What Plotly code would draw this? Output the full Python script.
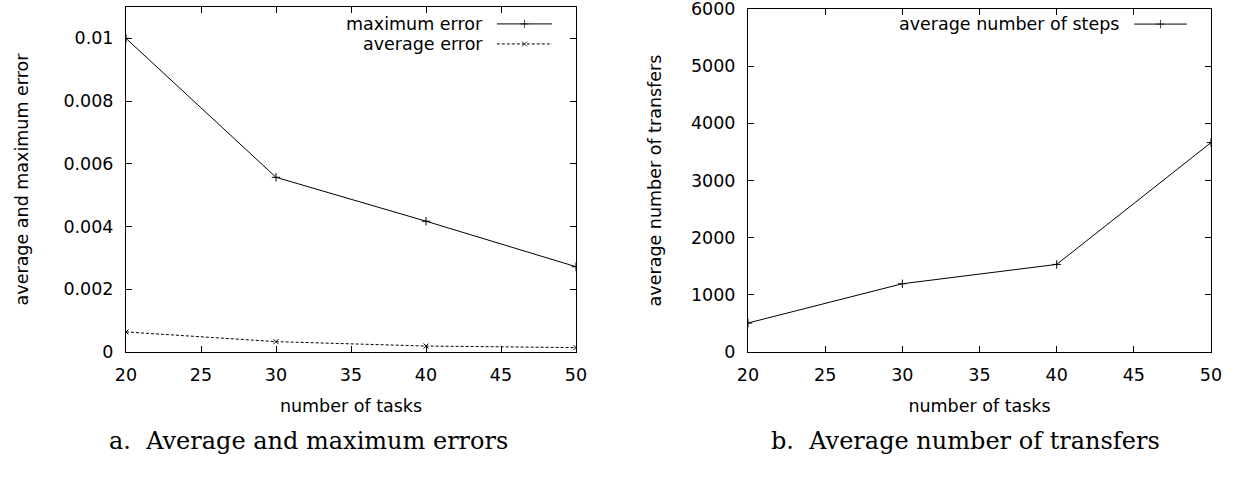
import plotly.graph_objects as go

# ---- data ----
tasks = [20, 30, 40, 50]
max_error = [0.0100, 0.00557, 0.00417, 0.00272]
avg_error = [0.00064, 0.00033, 0.00019, 0.00014]
avg_steps = [507, 1194, 1532, 3663]

x_ticks = [20, 25, 30, 35, 40, 45, 50]
y1_ticks = [0, 0.002, 0.004, 0.006, 0.008, 0.01]
y1_ticklabels = ["0", "0.002", "0.004", "0.006", "0.008", "0.01"]
y2_ticks = [0, 1000, 2000, 3000, 4000, 5000, 6000]

W, H = 1239, 479
FONT = "DejaVu Sans"
FS = 17.5
SERIF = "DejaVu Serif"

# plot-area pixel boxes
L1, R1, T1, B1 = 126, 576, 7, 352
L2, R2, T2, B2 = 748, 1211, 9, 352

fig = go.Figure()

line_black = dict(color="black", width=1)
plus_marker = dict(symbol="cross-thin", size=6, line=dict(color="black", width=1))
x_marker = dict(symbol="x-thin", size=5, line=dict(color="black", width=1))

fig.add_trace(go.Scatter(x=tasks, y=max_error, mode="lines+markers",
                         line=line_black, marker=plus_marker,
                         xaxis="x", yaxis="y", showlegend=False))
fig.add_trace(go.Scatter(x=tasks, y=avg_error, mode="lines+markers",
                         line=dict(color="black", width=1, dash="3px,2px"), marker=x_marker,
                         xaxis="x", yaxis="y", showlegend=False))
fig.add_trace(go.Scatter(x=tasks, y=avg_steps, mode="lines+markers",
                         line=line_black, marker=plus_marker,
                         xaxis="x2", yaxis="y2", showlegend=False))

# ---- legend keys (gnuplot style: text then sample) on overlay axes ----
leg_x = [0, 0.5, 1]
fig.add_trace(go.Scatter(x=leg_x, y=[0.951] * 3, mode="lines+markers", line=line_black,
                         marker=dict(symbol="cross-thin", size=[0, 6, 0], line=dict(color="black", width=1)),
                         xaxis="x3", yaxis="y3", showlegend=False, hoverinfo="skip"))
fig.add_trace(go.Scatter(x=leg_x, y=[0.893] * 3, mode="lines+markers",
                         line=dict(color="black", width=1, dash="3px,2px"),
                         marker=dict(symbol="x-thin", size=[0, 5, 0], line=dict(color="black", width=1)),
                         xaxis="x3", yaxis="y3", showlegend=False, hoverinfo="skip"))
fig.add_trace(go.Scatter(x=leg_x, y=[0.956] * 3, mode="lines+markers", line=line_black,
                         marker=dict(symbol="cross-thin", size=[0, 6, 0], line=dict(color="black", width=1)),
                         xaxis="x4", yaxis="y4", showlegend=False, hoverinfo="skip"))

axis_common = dict(showline=True, linecolor="black", linewidth=1, mirror="allticks",
                   ticks="inside", ticklen=6, tickcolor="black", tickwidth=1,
                   showgrid=False, zeroline=False, ticklabeloverflow="allow",
                   automargin=False,
                   tickfont=dict(family=FONT, size=FS, color="black"))

def dom_x(a, b):
    return [a / W, b / W]

def dom_y(t, b):
    return [(H - b) / H, (H - t) / H]

title_font = dict(family=FONT, size=FS, color="black")

fig.update_layout(
    width=W, height=H,
    margin=dict(l=0, r=0, t=0, b=0, autoexpand=False),
    paper_bgcolor="white", plot_bgcolor="rgba(0,0,0,0)",
    font=dict(family=FONT, size=FS, color="black"),
    xaxis=dict(domain=dom_x(L1, R1), range=[20, 50], tickvals=x_ticks,
               title=dict(text="number of tasks", font=title_font, standoff=15),
               anchor="y", ticklabelstandoff=7, **axis_common),
    yaxis=dict(domain=dom_y(T1, B1), range=[0, 0.011], tickvals=y1_ticks, ticktext=y1_ticklabels,
               title=dict(text="average and maximum error", font=title_font, standoff=30),
               anchor="x", ticklabelstandoff=8, **axis_common),
    xaxis2=dict(domain=dom_x(L2, R2), range=[20, 50], tickvals=x_ticks,
                title=dict(text="number of tasks", font=title_font, standoff=15),
                anchor="y2", ticklabelstandoff=7, **axis_common),
    yaxis2=dict(domain=dom_y(T2, B2), range=[0, 6000], tickvals=y2_ticks,
                title=dict(text="average number of transfers", font=title_font, standoff=24),
                anchor="x2", ticklabelstandoff=8, **axis_common),
    xaxis3=dict(domain=dom_x(L1 + 0.824 * (R1 - L1), L1 + 0.947 * (R1 - L1)), range=[0, 1],
                visible=False, anchor="y3", automargin=False),
    yaxis3=dict(domain=dom_y(T1, B1), range=[0, 1], visible=False, anchor="x3", automargin=False),
    xaxis4=dict(domain=dom_x(L2 + 0.834 * (R2 - L2), L2 + 0.948 * (R2 - L2)), range=[0, 1],
                visible=False, anchor="y4", automargin=False),
    yaxis4=dict(domain=dom_y(T2, B2), range=[0, 1], visible=False, anchor="x4", automargin=False),
)

ann = []
ann.append(dict(text="maximum error", xref="x domain", yref="y domain", x=0.798, y=0.951,
                xanchor="right", yanchor="middle", showarrow=False,
                font=dict(family=FONT, size=FS, color="black")))
ann.append(dict(text="average error", xref="x domain", yref="y domain", x=0.798, y=0.893,
                xanchor="right", yanchor="middle", showarrow=False,
                font=dict(family=FONT, size=FS, color="black")))
ann.append(dict(text="average number of steps", xref="x2 domain", yref="y2 domain", x=0.806, y=0.956,
                xanchor="right", yanchor="middle", showarrow=False,
                font=dict(family=FONT, size=FS, color="black")))
ann.append(dict(text="a.  Average and maximum errors", xref="paper", yref="paper",
                x=308 / W, y=(H - 441) / H, xanchor="center", yanchor="middle", showarrow=False,
                font=dict(family=SERIF, size=24, color="black")))
ann.append(dict(text="b.  Average number of transfers", xref="paper", yref="paper",
                x=965 / W, y=(H - 441) / H, xanchor="center", yanchor="middle", showarrow=False,
                font=dict(family=SERIF, size=24, color="black")))
fig.update_layout(annotations=ann)

fig.write_html("out.html")
